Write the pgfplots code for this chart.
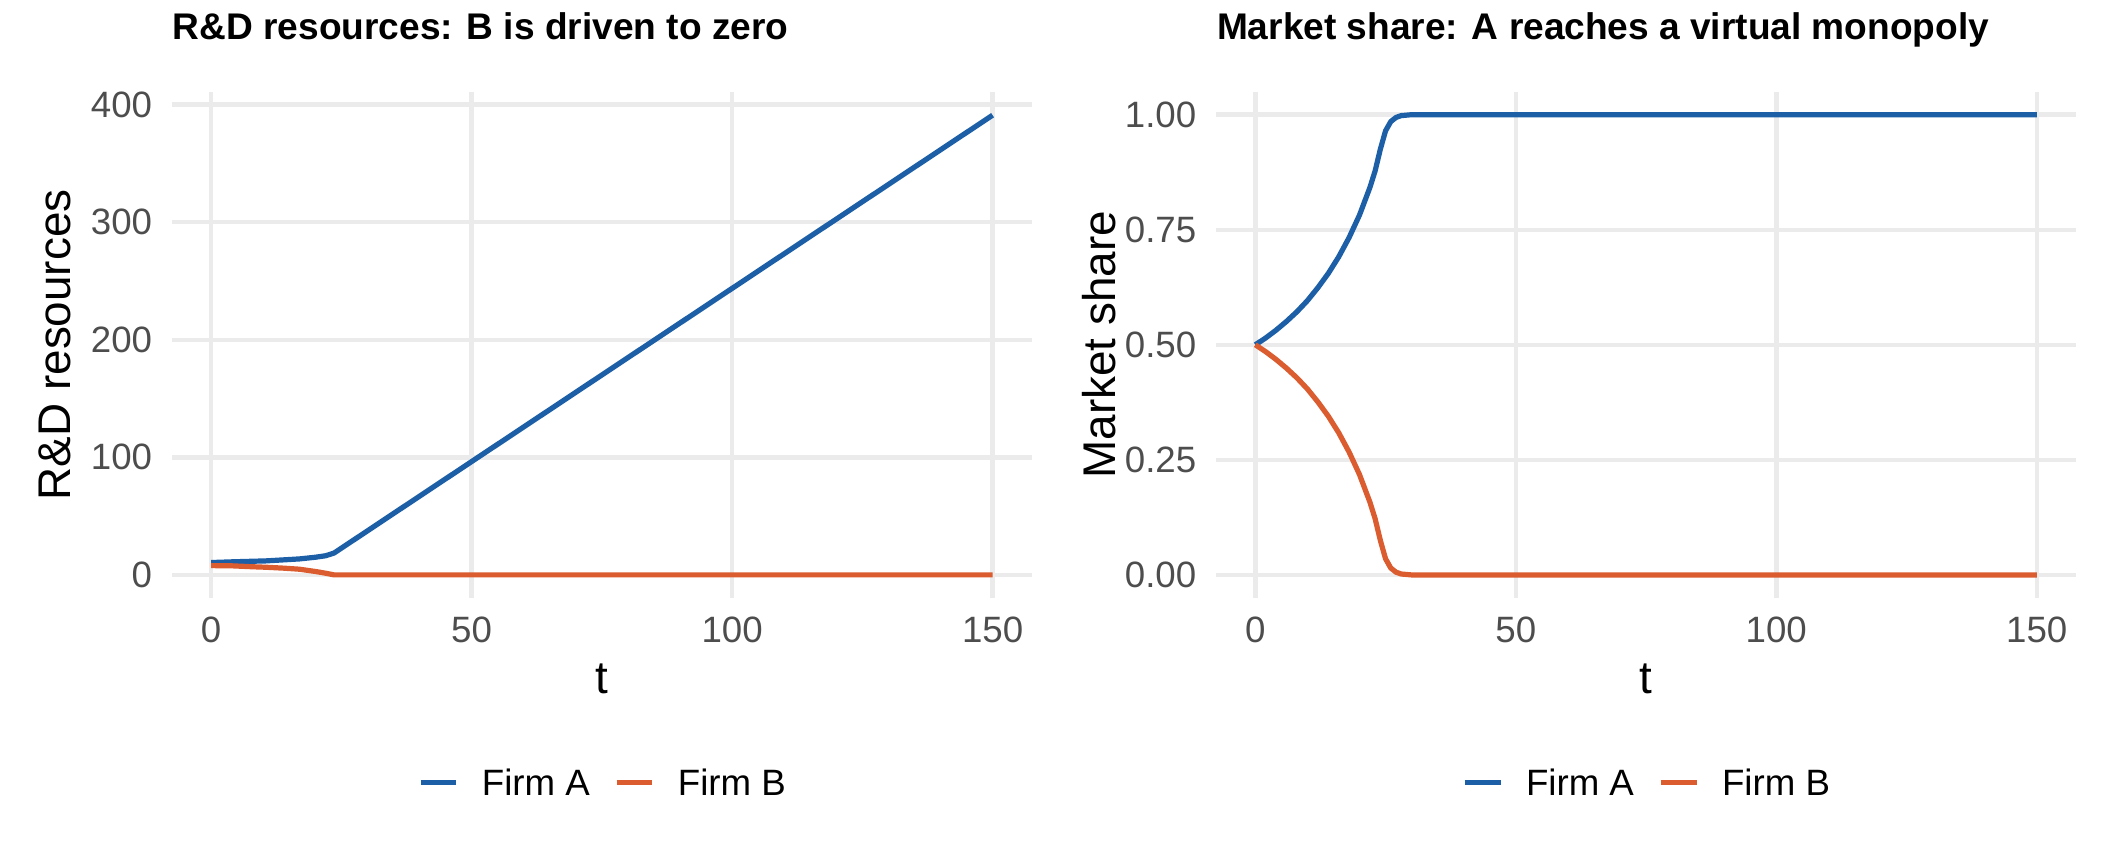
\documentclass[border=0pt]{standalone}
\usepackage{fontspec}
\setmainfont{Liberation Sans}
\usepackage{pgfplots}
\pgfplotsset{compat=1.18}
\definecolor{firmA}{HTML}{1D5FA6}
\definecolor{firmB}{HTML}{DA5C2F}
\definecolor{gridc}{HTML}{EBEBEB}
\definecolor{tickc}{HTML}{4D4D4D}

\pgfplotsset{
  panel/.style={
    scale only axis, width=206.3pt, height=121.5pt,
    xmin=-7.5, xmax=157.5,
    axis line style={draw=none}, major tick length=0pt, tick style={draw=none},
    grid=major, major grid style={color=gridc, line width=1.07pt},
    xtick={0,50,100,150},
    /pgf/number format/assume math mode=true,
    tick label style={font=\fontsize{8.8}{10}\selectfont, text=tickc, inner sep=0pt},
    yticklabel style={anchor=east, xshift=-4.6pt},
    xticklabel style={anchor=north, yshift=-4.3pt},
    label style={font=\fontsize{11}{13}\selectfont},
    xlabel={t},
    xlabel style={at={(axis description cs:0.5,-0.1605)}, anchor=center, inner sep=0pt},
    ylabel style={at={(axis description cs:-0.136,0.5)}, anchor=center, inner sep=0pt},
    title style={at={(axis description cs:0,1)}, anchor=base west, yshift=6.6pt, inner sep=0pt, font=\bfseries\fontsize{8.9}{10}\selectfont},
    legend columns=2,
    legend style={at={(0.5,-0.3695)}, anchor=center, draw=none, fill=none, inner sep=0pt,
      font=\fontsize{8.8}{10}\selectfont,
      nodes={inner sep=0pt},
      /tikz/every odd column/.append style={column sep=5.5pt},
      /tikz/every even column/.append style={column sep=5.8pt}},
    legend image code/.code={\draw[#1] (0pt,0.6pt) -- (8.6pt,0.6pt);},
    every axis plot/.append style={line width=1.25pt, line join=round},
  }
}

\pgfplotstableread{
t A B
0 10.5 7.9
4 11.1 7.7
8 11.6 6.9
10.5 11.9 6.5
14 12.8 5.7
17 13.6 4.8
20 15.0 2.9
22 16.3 1.4
23.6 18.6 0.0
150 391 0.0
}\rdtable

\pgfplotstableread{
t A B
0 0.500 0.500
2 0.515 0.485
4 0.532 0.468
6 0.551 0.449
8 0.572 0.428
10 0.596 0.404
12 0.624 0.376
14 0.655 0.345
16 0.691 0.309
18 0.733 0.267
20 0.782 0.218
22 0.842 0.158
23 0.878 0.122
24 0.925 0.075
25 0.965 0.035
26 0.985 0.015
27 0.994 0.006
28 0.998 0.002
30 1.000 0.000
150 1.000 0.000
}\mstable

\begin{document}
\begin{tikzpicture}
\useasboundingbox (0,0) rectangle (506.88pt,207.36pt);
\begin{axis}[panel, at={(41.3pt,63.86pt)}, anchor=south west,
  ymin=-19.6, ymax=411, ytick={0,100,200,300,400},
  ylabel={R\&D resources},
  title={R\&D resources: B is driven to zero}]
\addplot[firmA] table[x=t,y=A]{\rdtable};
\addlegendentry{Firm A}
\addplot[firmB] table[x=t,y=B]{\rdtable};
\addlegendentry{Firm B}
\end{axis}
\begin{axis}[panel, at={(291.9pt,63.86pt)}, anchor=south west,
  ymin=-0.05, ymax=1.05, ytick={0,0.25,0.5,0.75,1},
  yticklabel style={/pgf/number format/.cd, fixed, fixed zerofill, precision=2},
  ylabel={Market share},
  title={Market share: A reaches a virtual monopoly}]
\addplot[firmA] table[x=t,y=A]{\mstable};
\addlegendentry{Firm A}
\addplot[firmB] table[x=t,y=B]{\mstable};
\addlegendentry{Firm B}
\end{axis}
\end{tikzpicture}
\end{document}
